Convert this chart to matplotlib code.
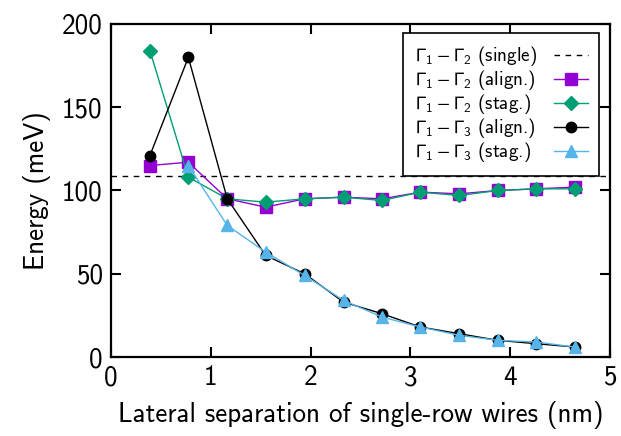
import matplotlib
matplotlib.use("Agg")
import matplotlib.pyplot as plt
from matplotlib.offsetbox import TextArea
from matplotlib.transforms import Bbox

# lateral separation (nm)
sep = [0.39, 0.775, 1.165, 1.55, 1.94, 2.33, 2.715, 3.10, 3.49, 3.875, 4.26, 4.645]
sep_g13_stag = sep[1:]

single_g12 = 109

g12_align = [115, 117, 95, 90, 95, 96, 95, 99, 98, 100, 101, 102]
g12_stag = [184, 108, 95, 93, 95, 96, 94, 99, 97, 100, 101, 101]
g13_align = [121, 180, 95, 61, 50, 33, 26, 18, 14, 10, 8, 6]
g13_stag = [115, 79, 63, 49, 34, 24, 18, 13, 10, 9, 6]

labels = [r"$\Gamma_1 - \Gamma_2$ (single)",
          r"$\Gamma_1 - \Gamma_2$ (align.)",
          r"$\Gamma_1 - \Gamma_2$ (stag.)",
          r"$\Gamma_1 - \Gamma_3$ (align.)",
          r"$\Gamma_1 - \Gamma_3$ (stag.)"]

plt.rcParams["font.family"] = "cmss10"
plt.rcParams["mathtext.fontset"] = "custom"
plt.rcParams["mathtext.rm"] = "cmss10"
plt.rcParams["mathtext.sf"] = "cmss10"
plt.rcParams["mathtext.fallback"] = "stixsans"
plt.rcParams["axes.unicode_minus"] = False

fig = plt.figure(figsize=(6.21, 4.36), dpi=100)
ax = fig.add_axes([111 / 621, 1 - 357 / 436, 499 / 621, 333 / 436])

ax.axhline(single_g12, color="black", lw=1.0, ls=(0, (4, 4)), label=labels[0])
ax.plot(sep, g12_align, color="#9400D3", lw=1.0, marker="s", ms=8, label=labels[1])
ax.plot(sep, g12_stag, color="#009E73", lw=1.0, marker="D", ms=7, label=labels[2])
ax.plot(sep, g13_align, color="black", lw=1.0, marker="o", ms=7.5, label=labels[3])
ax.plot(sep_g13_stag, g13_stag, color="#56B4E9", lw=1.0, marker="^", ms=8.5,
        label=labels[4])

ax.set_xlim(0, 5)
ax.set_ylim(0, 200)
ax.set_xticks([0, 1, 2, 3, 4, 5])
ax.set_yticks([0, 50, 100, 150, 200])
ax.tick_params(direction="in", length=7, width=1.5, top=True, right=True,
               labelsize=19.5, pad=6)
for s in ax.spines.values():
    s.set_linewidth(1.6)

ax.set_xlabel("Lateral separation of single-row wires (nm)", fontsize=19.5, labelpad=8)
ax.set_ylabel("Energy (meV)", fontsize=19.5, labelpad=8)

leg = ax.legend(loc="upper right", bbox_to_anchor=(0.978, 0.973), markerfirst=False,
                fontsize=13.8, fancybox=False, framealpha=1, edgecolor="black",
                handlelength=1.75, borderpad=0.6, labelspacing=0.0, handletextpad=0.9,
                borderaxespad=0)
leg.get_frame().set_linewidth(1.2)

# gnuplot style key: labels flush left, samples flush right
renderer = fig.canvas.get_renderer()
areas = [ch for col in leg._legend_handle_box.get_children()
         for item in col.get_children()
         for ch in item.get_children() if isinstance(ch, TextArea)]
wmax = max(a.get_bbox(renderer).width for a in areas)
for a in areas:
    def padded(renderer, orig=a.get_bbox):
        b = orig(renderer)
        return Bbox.from_bounds(b.x0, b.y0, wmax, b.height)
    a.get_bbox = padded

fig.savefig("out.png", dpi=100)
